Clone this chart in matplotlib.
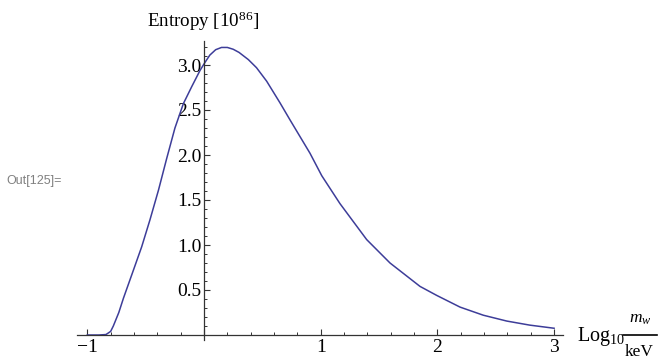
import matplotlib
matplotlib.use("Agg")
import matplotlib.pyplot as plt
from matplotlib.lines import Line2D
from matplotlib.ticker import MultipleLocator, FixedLocator

# Data (x = log10(m_w / keV), y = entropy in 1e86)
log_m = [-1.0, -0.9, -0.84, -0.80, -0.777, -0.73, -0.69, -0.605, -0.534, -0.463, -0.39,
         -0.32, -0.249, -0.177, -0.105, -0.034, 0.009, 0.05, 0.10, 0.15, 0.20, 0.25,
         0.30, 0.38, 0.45, 0.537, 0.651, 0.737, 0.908, 1.009, 1.165, 1.394, 1.594,
         1.851, 1.994, 2.194, 2.393, 2.594, 2.79, 3.0]
entropy = [0.0, 0.0, 0.005, 0.04, 0.10, 0.25, 0.41, 0.72, 0.98, 1.28, 1.61,
           1.96, 2.30, 2.57, 2.76, 2.94, 3.03, 3.11, 3.17, 3.195, 3.195, 3.175,
           3.14, 3.06, 2.97, 2.82, 2.58, 2.39, 2.02, 1.77, 1.46, 1.06, 0.80,
           0.54, 0.44, 0.31, 0.22, 0.155, 0.11, 0.075]

y_major = [0.5, 1.0, 1.5, 2.0, 2.5, 3.0]
y_labels = ["0.5", "1.0", "1.5", "2.0", "2.5", "3.0"]
x_major = [-1, 0, 1, 2, 3]
x_labels = ["\u22121", "", "1", "2", "3"]

plt.rcParams["font.family"] = ["Liberation Serif", "DejaVu Serif"]
plt.rcParams["mathtext.fontset"] = "custom"
plt.rcParams["mathtext.rm"] = "Liberation Serif"
plt.rcParams["mathtext.it"] = "Liberation Serif:italic"

W, H = 658, 360
fig = plt.figure(figsize=(W / 100, H / 100), dpi=100)

def fx(px):
    return px / W

def fy(py):
    return 1 - py / H

# axes box in pixels
left_px, right_px, top_px, bot_px = 77, 563, 41, 340
ax = fig.add_axes([fx(left_px), fy(bot_px), (right_px - left_px) / W, (bot_px - top_px) / H])
ax.patch.set_alpha(0)

px_per_x = 116.7
px_per_y = 90.0
x0_px, y0_px = 204, 335
ax.set_xlim((left_px - x0_px) / px_per_x, (right_px - x0_px) / px_per_x)
ax.set_ylim((y0_px - bot_px) / px_per_y, (y0_px - top_px) / px_per_y)

ax.plot(log_m, entropy, color="#3d3d99", lw=1.1, solid_joinstyle="round")

axcol = "#333333"
for s in ["top", "right"]:
    ax.spines[s].set_visible(False)
ax.spines["left"].set_position(("data", 0))
ax.spines["bottom"].set_position(("data", 0))
for s in ["left", "bottom"]:
    ax.spines[s].set_color(axcol)
    ax.spines[s].set_linewidth(0.9)

ax.yaxis.set_major_locator(FixedLocator(y_major))
ax.set_yticklabels(y_labels)
ax.yaxis.set_minor_locator(MultipleLocator(0.1))
ax.xaxis.set_major_locator(FixedLocator(x_major))
ax.set_xticklabels(x_labels)
ax.xaxis.set_minor_locator(MultipleLocator(0.2))

ax.tick_params(which="major", direction="in", length=4.5, width=0.8, color=axcol,
               labelsize=14, pad=2)
ax.tick_params(which="minor", direction="in", length=2.5, width=0.7, color=axcol)
ax.tick_params(axis="x", which="major", pad=3)

fig.text(fx(147), fy(21), "Entropy [10$^{86}$]", ha="left", va="center", fontsize=13.7)

# x-axis label: Log10 (m_w / keV)
fig.text(fx(577), fy(340.5), r"Log$_{10}$", ha="left", va="baseline", fontsize=14.5)
frac_line = Line2D([fx(623), fx(656.5)], [fy(334.5), fy(334.5)],
                   transform=fig.transFigure, color="#000000", linewidth=1.2, zorder=10)
fig.lines.append(frac_line)
fig.text(fx(640), fy(322.5), r"$m_w$", ha="center", va="baseline", fontsize=12.5)
fig.text(fx(639), fy(355.5), "keV", ha="center", va="baseline", fontsize=12.5)

fig.text(fx(6), fy(181), "Out[125]=", ha="left", va="center", fontsize=9,
         color="#808080", family=["Liberation Sans", "DejaVu Sans"])

fig.savefig("out.png", dpi=100)
